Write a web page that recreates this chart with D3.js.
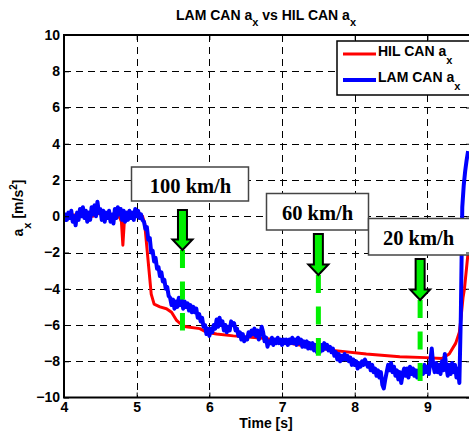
<!DOCTYPE html>
<html>
<head>
<meta charset="utf-8">
<script src="https://cdn.jsdelivr.net/npm/d3@7"></script>
<style>
  html, body { margin: 0; padding: 0; background: #fff; }
  svg { display: block; }
</style>
</head>
<body>
<svg id="chart" width="469" height="437"></svg>
<script>
// LAM CAN longitudinal acceleration, sampled every 0.02 s from t = 4.00 s
const lamStart = 4.0;
const lamStep = 0.02;
const lamValues = [
  -0.3, 0.1, -0.2, 0.2, -0.1, 0.3, -0.3, 0.0, -0.5, 0.2,
  -0.2, 0.4, 0.0, 0.5, -0.1, 0.3, -0.3, 0.2, -0.2, 0.5,
  0.1, 0.6, 0.0, 0.8, 0.2, 0.4, -0.2, 0.3, -0.3, 0.2,
  -0.1, 0.3, -0.3, 0.1, -0.4, 0.4, -0.1, 0.5, 0.1, 0.4,
  -0.2, 0.3, -0.3, 0.2, -0.2, 0.3, -0.1, 0.2, -0.2, 0.4,
  0.0, 0.3, -0.1, 0.1, -0.2, -0.3, -0.7, -0.6, -1.3, -1.2,
  -2.0, -1.9, -2.5, -2.3, -2.9, -2.8, -3.3, -3.1, -3.6, -3.5,
  -4.0, -3.9, -4.4, -4.5, -4.9, -4.6, -5.1, -4.7, -5.0, -4.5,
  -4.9, -4.6, -5.1, -4.7, -5.0, -4.8, -5.2, -4.9, -5.3, -5.0,
  -5.3, -5.1, -5.6, -5.4, -5.8, -5.6, -6.1, -6.0, -6.5, -6.2,
  -6.6, -6.2, -6.4, -6.0, -6.2, -5.7, -6.1, -5.6, -6.0, -5.8,
  -6.3, -6.0, -6.4, -6.1, -6.3, -5.8, -6.0, -5.9, -6.3, -6.2,
  -6.6, -6.4, -6.8, -6.5, -6.9, -6.7, -6.8, -6.4, -6.6, -6.3,
  -6.5, -6.2, -6.6, -6.3, -6.8, -6.5, -6.1, -6.4, -6.9, -6.7,
  -7.2, -6.9, -7.0, -6.7, -7.1, -6.8, -7.0, -6.7, -7.0, -6.8,
  -7.1, -6.8, -7.0, -6.8, -7.1, -6.8, -7.0, -6.7, -7.0, -6.8,
  -7.1, -6.7, -7.0, -6.8, -7.2, -6.9, -7.2, -6.9, -7.3, -7.0,
  -7.3, -7.0, -7.4, -7.1, -7.5, -7.2, -7.5, -7.1, -7.4, -7.0,
  -7.3, -7.1, -7.4, -7.2, -7.5, -7.3, -7.7, -7.5, -7.9, -7.6,
  -8.0, -7.7, -7.9, -7.6, -7.9, -7.7, -8.0, -7.8, -8.2, -7.9,
  -8.2, -8.0, -8.4, -8.1, -8.3, -8.0, -8.2, -7.9, -8.1, -8.3,
  -8.1, -8.5, -8.2, -8.6, -8.4, -8.8, -8.5, -8.9, -8.6, -9.3,
  -9.5, -9.0, -8.6, -8.2, -8.5, -8.1, -8.6, -8.3, -8.8, -8.5,
  -9.0, -8.6, -9.2, -8.7, -8.4, -8.8, -8.4, -8.9, -8.3, -8.7,
  -8.4, -8.8, -8.5, -8.9, -8.5, -8.8, -8.3, -8.7, -8.2, -8.6,
  -8.3, -8.7, -8.0, -7.3, -8.2, -8.6, -8.1, -8.6, -8.2, -8.7,
  -8.0, -8.5, -7.6, -8.3, -8.8, -8.2, -8.7, -8.1, -8.6, -8.2,
  -8.9, -8.4, -9.2, -5.5, 0.5, 1.7, 2.5, 3.1, 3.6
];

// HIL CAN longitudinal acceleration (smoother reference signal)
const hilTimes = [
  4.0, 4.2, 4.4, 4.5, 4.6, 4.7, 4.76, 4.79, 4.81, 4.83,
  4.86, 4.9, 4.95, 5.0, 5.02, 5.06, 5.08, 5.11, 5.14, 5.17,
  5.2, 5.24, 5.32, 5.41, 5.48, 5.55, 5.62, 5.68, 5.87, 5.96,
  6.1, 6.33, 6.78, 7.24, 7.7, 8.16, 8.62, 8.98, 9.2, 9.3,
  9.39, 9.44, 9.46, 9.49, 9.51, 9.56, 9.6
];
const hilValues = [
  0.0, 0.1, 0.0, 0.2, 0.1, -0.1, 0.0, -0.3, -1.6, -0.3,
  0.1, 0.3, -0.1, 0.1, 0.3, -0.1, 0.0, -0.4, -1.7, -3.0,
  -4.3, -4.85, -5.0, -5.1, -5.3, -5.75, -6.0, -6.1, -6.2, -6.4,
  -6.5, -6.6, -6.75, -7.1, -7.4, -7.6, -7.75, -7.8, -7.85, -7.6,
  -7.0, -6.4, -5.7, -4.5, -4.0, -2.0, -0.4
];

const xTicks = [4, 5, 6, 7, 8, 9];
const yTicks = [-10, -8, -6, -4, -2, 0, 2, 4, 6, 8, 10];

// Speed markers: label, time of the marker, value where the marker line stops
const speedLabels = ["100 km/h", "60 km/h", "20 km/h"];
const markerTimes = [5.63, 7.5, 8.9];
const markerEnds = [-6.3, -7.7, -9.1];

// ---- layout ----
const plot = { left: 64, right: 471, top: 35, bottom: 397.5 };
const SANS = "'Liberation Sans', Arial, Helvetica, sans-serif";
const SERIF = "'Liberation Serif', 'Times New Roman', serif";
const GREEN = "#00f000";
const labelBoxes = [
  { x: 131.5, y: 167, w: 117, h: 34, cx: 190.5 },
  { x: 266.5, y: 193.5, w: 102, h: 36.5, cx: 317.5 },
  { x: 368.5, y: 218.5, w: 120, h: 36.5, cx: 418.5 }
];
const arrowTops = [210, 234, 259];
const arrowTips = [250, 275, 300];

const svg = d3.select("#chart");

const x = d3.scaleLinear().domain([4, 9.6]).range([plot.left, plot.right]);
const y = d3.scaleLinear().domain([-10, 10]).range([plot.bottom, plot.top]);

svg.append("defs").append("clipPath").attr("id", "plotClip")
  .append("rect")
  .attr("x", plot.left).attr("y", plot.top)
  .attr("width", plot.right - plot.left).attr("height", plot.bottom - plot.top);

// grid
const grid = svg.append("g").attr("stroke", "#000").attr("stroke-width", 1)
  .attr("stroke-dasharray", "7,5").attr("fill", "none");
grid.selectAll("line.gx").data(xTicks.filter(d => d > 4)).join("line")
  .attr("class", "gx")
  .attr("x1", d => Math.round(x(d)) + 0.5).attr("x2", d => Math.round(x(d)) + 0.5)
  .attr("y1", plot.top).attr("y2", plot.bottom);
grid.selectAll("line.gy").data(yTicks.filter(d => d > -10 && d < 10)).join("line")
  .attr("class", "gy")
  .attr("y1", d => Math.round(y(d)) + 0.5).attr("y2", d => Math.round(y(d)) + 0.5)
  .attr("x1", plot.left).attr("x2", plot.right);

// series
const hil = hilTimes.map((t, i) => [t, hilValues[i]]);
const lam = lamValues.map((v, i) => [lamStart + i * lamStep, v]);
const line = d3.line().x(d => x(d[0])).y(d => y(d[1]));

const lines = svg.append("g").attr("clip-path", "url(#plotClip)");
lines.append("path").datum(hil)
  .attr("d", line).attr("fill", "none")
  .attr("stroke", "#ff0000").attr("stroke-width", 3)
  .attr("stroke-linejoin", "round");
lines.append("path").datum(lam)
  .attr("d", line).attr("fill", "none")
  .attr("stroke", "#0000ff").attr("stroke-width", 4)
  .attr("stroke-linejoin", "round");

// speed markers: dashed green line below a green arrow
const markers = svg.append("g");
markerTimes.forEach((t, i) => {
  const cx = x(t);
  markers.append("line")
    .attr("x1", cx).attr("x2", cx)
    .attr("y1", arrowTips[i]).attr("y2", y(markerEnds[i]))
    .attr("stroke", GREEN).attr("stroke-width", 5)
    .attr("stroke-dasharray", "18,13.5");
  const top = arrowTops[i], tip = arrowTips[i], base = tip - 10.5;
  const sw = 4.5, hw = 10;
  const p = d3.path();
  p.moveTo(cx - sw, top);
  p.lineTo(cx + sw, top);
  p.lineTo(cx + sw, base);
  p.lineTo(cx + hw, base);
  p.lineTo(cx, tip);
  p.lineTo(cx - hw, base);
  p.lineTo(cx - sw, base);
  p.closePath();
  markers.append("path").attr("d", p.toString())
    .attr("fill", GREEN).attr("stroke", "#000").attr("stroke-width", 2)
    .attr("stroke-linejoin", "miter");
});

// speed label boxes
const boxes = svg.append("g");
labelBoxes.forEach((b, i) => {
  boxes.append("rect")
    .attr("x", b.x).attr("y", b.y).attr("width", b.w).attr("height", b.h)
    .attr("fill", "#fff").attr("stroke", "#444").attr("stroke-width", 1.5);
  boxes.append("text")
    .attr("x", b.cx).attr("y", b.y + 26)
    .attr("text-anchor", "middle")
    .attr("font-family", SERIF).attr("font-weight", "bold").attr("font-size", 20.5)
    .attr("fill", "#000")
    .text(speedLabels[i]);
});

// axes
const axisStyle = g => {
  g.select(".domain").remove();
  g.selectAll(".tick line").attr("stroke", "#000").attr("stroke-width", 1);
  g.selectAll(".tick text").attr("font-family", SANS).attr("font-weight", "bold")
    .attr("font-size", 14).attr("fill", "#000");
};
svg.append("g").attr("transform", `translate(0,${plot.bottom})`)
  .call(d3.axisBottom(x).tickValues(xTicks).tickFormat(d3.format("d")).tickSize(-5).tickPadding(5))
  .call(axisStyle);
svg.append("g").attr("transform", `translate(${plot.left},0)`)
  .call(d3.axisLeft(y).tickValues(yTicks).tickFormat(d3.format("d")).tickSize(-5).tickPadding(4))
  .call(axisStyle);
svg.append("g").attr("transform", `translate(0,${plot.top})`)
  .call(d3.axisTop(x).tickValues(xTicks).tickFormat("").tickSize(-5))
  .call(axisStyle);
svg.append("g").attr("transform", `translate(${plot.right},0)`)
  .call(d3.axisRight(y).tickValues(yTicks).tickFormat("").tickSize(-5))
  .call(axisStyle);

svg.append("rect")
  .attr("x", plot.left).attr("y", plot.top)
  .attr("width", plot.right - plot.left).attr("height", plot.bottom - plot.top)
  .attr("fill", "none").attr("stroke", "#000").attr("stroke-width", 2);

// text with sub/superscripts
function richText(sel, parts, base, subSize, supSize) {
  let shift = 0;
  parts.forEach(p => {
    const target = p.sub ? p.sub : (p.sup ? -p.sup : 0);
    const ts = sel.append("tspan").text(p.t);
    if (target !== shift) ts.attr("dy", target - shift);
    ts.attr("font-size", p.sub ? subSize : (p.sup ? supSize : base));
    shift = target;
  });
}

// title
const title = svg.append("text")
  .attr("x", 266).attr("y", 19.5).attr("text-anchor", "middle")
  .attr("font-family", SANS).attr("font-weight", "bold").attr("font-size", 14);
richText(title, [
  { t: "LAM CAN a" }, { t: "x", sub: 6 },
  { t: " vs HIL CAN a" }, { t: "x", sub: 6 }
], 14, 11);

// x label
svg.append("text")
  .attr("x", 266).attr("y", 428).attr("text-anchor", "middle")
  .attr("font-family", SANS).attr("font-weight", "bold").attr("font-size", 14)
  .text("Time [s]");

// y label
const yl = svg.append("text")
  .attr("transform", "translate(22.5,208) rotate(-90)")
  .attr("text-anchor", "middle")
  .attr("font-family", SANS).attr("font-weight", "bold").attr("font-size", 14);
richText(yl, [
  { t: "a" }, { t: "x", sub: 8 }, { t: " [m/s" }, { t: "2", sup: 6 }, { t: "]" }
], 14, 11, 10);

// legend
const legend = svg.append("g");
legend.append("rect")
  .attr("x", 337).attr("y", 41).attr("width", 160).attr("height", 54)
  .attr("fill", "#fff").attr("stroke", "#000").attr("stroke-width", 1.5);
const legendItems = [
  { label: "HIL CAN a", color: "#ff0000", width: 3 },
  { label: "LAM CAN a", color: "#0000ff", width: 4 }
];
legendItems.forEach((d, i) => {
  const ly = 54 + i * 26;
  legend.append("line")
    .attr("x1", 343).attr("x2", 376).attr("y1", ly).attr("y2", ly)
    .attr("stroke", d.color).attr("stroke-width", d.width);
  const t = legend.append("text")
    .attr("x", 378).attr("y", ly + 2)
    .attr("font-family", SANS).attr("font-weight", "bold").attr("font-size", 14);
  richText(t, [{ t: d.label }, { t: "x", sub: 7.5 }], 14, 11);
});
</script>
</body>
</html>
